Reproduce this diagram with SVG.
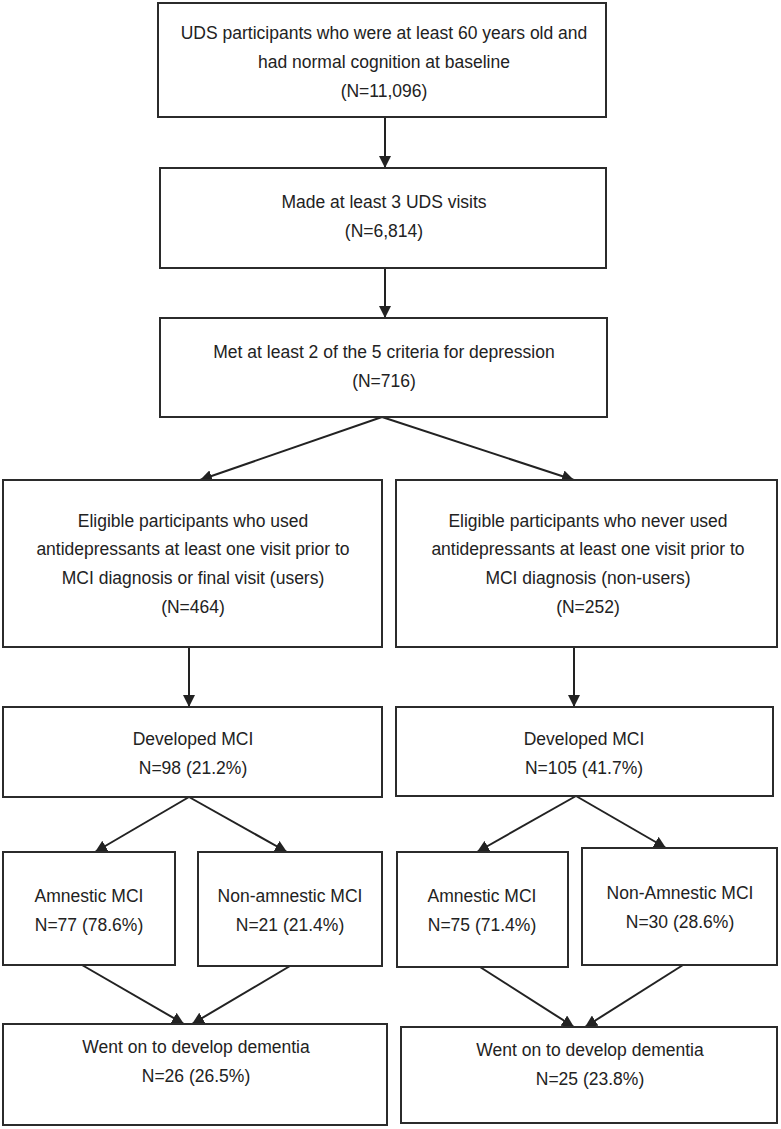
<svg xmlns="http://www.w3.org/2000/svg" width="781" height="1129" viewBox="0 0 781 1129">
<style>
.box{fill:#fff;stroke:#2b2b2b;stroke-width:2}
.t{font-family:"Liberation Sans",Arial,sans-serif;font-size:17.5px;fill:#222;text-anchor:middle}
.c{stroke:#222;stroke-width:2;fill:none;marker-end:url(#ah)}
</style>
<defs>
<marker id="ah" markerUnits="userSpaceOnUse" markerWidth="12" markerHeight="12" viewBox="0 0 12 12" refX="12" refY="6" orient="auto">
<path d="M0,0 L12,6 L0,12 z" fill="#222"/>
</marker>
</defs>
<rect width="781" height="1129" fill="#fff"/>
<g id="connectors">
<line class="c" x1="385" y1="117" x2="385" y2="168"/>
<line class="c" x1="385" y1="268" x2="385" y2="318"/>
<line class="c" x1="382" y1="417" x2="200" y2="480"/>
<line class="c" x1="382" y1="417" x2="574" y2="480"/>
<line class="c" x1="189" y1="647" x2="189" y2="707"/>
<line class="c" x1="574" y1="647" x2="574" y2="707"/>
<line class="c" x1="189" y1="797" x2="95" y2="852"/>
<line class="c" x1="189" y1="797" x2="287" y2="852"/>
<line class="c" x1="576" y1="796" x2="477" y2="852"/>
<line class="c" x1="576" y1="796" x2="666" y2="848"/>
<line class="c" x1="82" y1="965" x2="184" y2="1024"/>
<line class="c" x1="290" y1="966" x2="192" y2="1024"/>
<line class="c" x1="480" y1="967" x2="574" y2="1027"/>
<line class="c" x1="683" y1="965" x2="585" y2="1027"/>
</g>
<g id="n1"><rect class="box" x="158" y="3" width="448" height="114"/>
<text class="t" x="384" y="39">UDS participants who were at least 60 years old and</text>
<text class="t" x="384" y="68">had normal cognition at baseline</text>
<text class="t" x="384" y="97">(N=11,096)</text></g>
<g id="n2"><rect class="box" x="160" y="168" width="446" height="100"/>
<text class="t" x="384" y="208">Made at least 3 UDS visits</text>
<text class="t" x="384" y="237">(N=6,814)</text></g>
<g id="n3"><rect class="box" x="160" y="318" width="447" height="99"/>
<text class="t" x="384" y="358">Met at least 2 of the 5 criteria for depression</text>
<text class="t" x="384" y="387">(N=716)</text></g>
<g id="n4"><rect class="box" x="3" y="480" width="379" height="167"/>
<text class="t" x="193" y="527">Eligible participants who used</text>
<text class="t" x="193" y="555">antidepressants at least one visit prior to</text>
<text class="t" x="193" y="584">MCI diagnosis or final visit (users)</text>
<text class="t" x="193" y="613">(N=464)</text></g>
<g id="n5"><rect class="box" x="396" y="480" width="381" height="167"/>
<text class="t" x="588" y="527">Eligible participants who never used</text>
<text class="t" x="588" y="555">antidepressants at least one visit prior to</text>
<text class="t" x="588" y="584">MCI diagnosis (non-users)</text>
<text class="t" x="588" y="613">(N=252)</text></g>
<g id="n6"><rect class="box" x="3" y="707" width="379" height="90"/>
<text class="t" x="193" y="745">Developed MCI</text>
<text class="t" x="193" y="774">N=98 (21.2%)</text></g>
<g id="n7"><rect class="box" x="396" y="707" width="377" height="89"/>
<text class="t" x="584" y="745">Developed MCI</text>
<text class="t" x="584" y="774">N=105 (41.7%)</text></g>
<g id="n8"><rect class="box" x="3" y="852" width="172" height="113"/>
<text class="t" x="89" y="902">Amnestic MCI</text>
<text class="t" x="89" y="931">N=77 (78.6%)</text></g>
<g id="n9"><rect class="box" x="198" y="852" width="184" height="114"/>
<text class="t" x="290" y="902">Non-amnestic MCI</text>
<text class="t" x="290" y="931">N=21 (21.4%)</text></g>
<g id="n10"><rect class="box" x="397" y="852" width="171" height="115"/>
<text class="t" x="482" y="902">Amnestic MCI</text>
<text class="t" x="482" y="931">N=75 (71.4%)</text></g>
<g id="n11"><rect class="box" x="582" y="848" width="195" height="117"/>
<text class="t" x="680" y="899">Non-Amnestic MCI</text>
<text class="t" x="680" y="928">N=30 (28.6%)</text></g>
<g id="n12"><rect class="box" x="3" y="1024" width="384" height="101"/>
<text class="t" x="196" y="1053">Went on to develop dementia</text>
<text class="t" x="196" y="1082">N=26 (26.5%)</text></g>
<g id="n13"><rect class="box" x="401" y="1027" width="376" height="96"/>
<text class="t" x="590" y="1056">Went on to develop dementia</text>
<text class="t" x="590" y="1085">N=25 (23.8%)</text></g>
</svg>
